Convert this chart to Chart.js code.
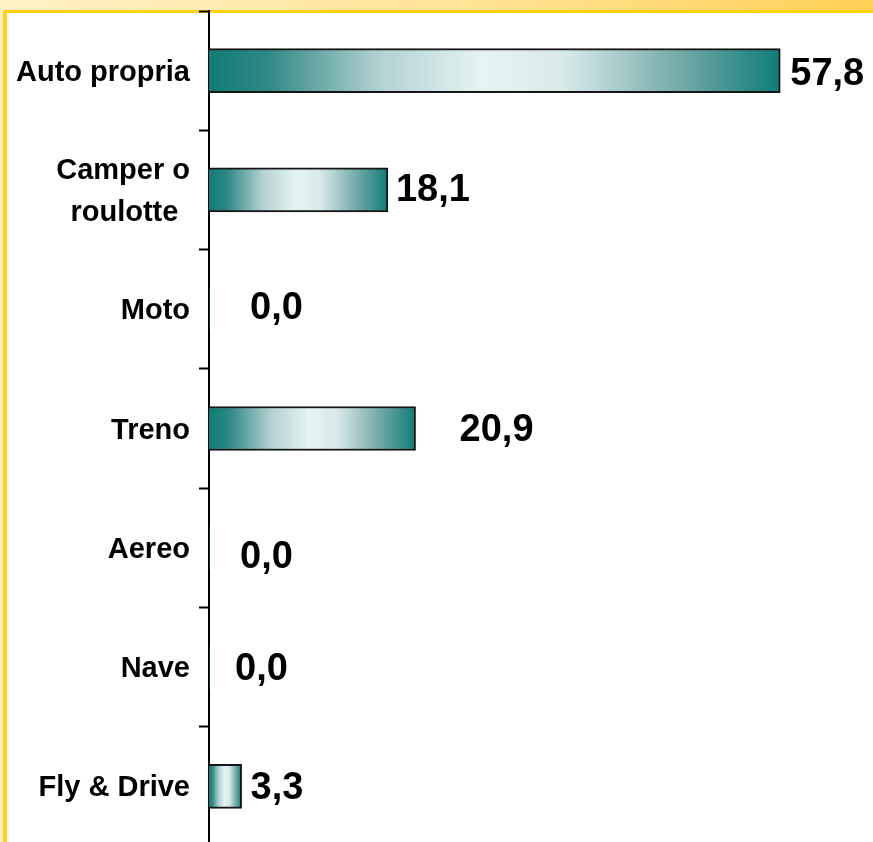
<!DOCTYPE html>
<html>
<head>
<meta charset="utf-8">
<script src="https://cdn.jsdelivr.net/npm/chart.js@4.4.1/dist/chart.umd.min.js"></script>
<style>
    html, body {
        margin: 0;
        padding: 0;
        width: 873px;
        height: 842px;
        overflow: hidden;
    }
    body {
        background: linear-gradient(to right, #fff1c6 0%, #ffe394 55%, #ffd055 100%);
        position: relative;
    }
    .panel {
        position: absolute;
        left: 3px;
        top: 10px;
        right: 0;
        bottom: 0;
        background: #ffffff;
        border-left: 4px solid #ffd10f;
        border-top: 3px solid #ffd10f;
    }
    #wrap {
        position: absolute;
        left: 0;
        top: 0;
        width: 873px;
        height: 850px;
    }
</style>
</head>
<body>
<div class="panel"></div>
<div id="wrap">
    <canvas id="chart" width="873" height="850"></canvas>
</div>
<script>
    const categories = [
        'Auto propria',
        ['Camper o', 'roulotte\u2009\u2009'],
        'Moto',
        'Treno',
        'Aereo',
        'Nave',
        'Fly & Drive'
    ];
    const shares = [57.8, 18.1, 0.0, 20.9, 0.0, 0.0, 3.3];
    const axisMax = 60;

    // nudges for the value labels, in pixels
    const labelDx = [10, 8, 41, 44, 31, 26, 9];
    const labelDy = [4, 1, -1, 2, 10, 2, 2];

    function barGradient(context) {
        const chart = context.chart;
        const xScale = chart.scales.x;
        if (!chart.chartArea || !xScale) return '#1a7f7b';
        const v = shares[context.dataIndex];
        const x0 = xScale.getPixelForValue(0);
        const x1 = xScale.getPixelForValue(v);
        if (x1 - x0 < 1) return '#1a7f7b';
        const g = chart.ctx.createLinearGradient(x0, 0, x1, 0);
        g.addColorStop(0, '#0e7c77');
        g.addColorStop(0.1, '#2f8884');
        g.addColorStop(0.3, '#b2d2d1');
        g.addColorStop(0.48, '#e5f3f3');
        g.addColorStop(0.62, '#d9eaea');
        g.addColorStop(0.82, '#76aba9');
        g.addColorStop(1, '#0e7c77');
        return g;
    }

    const valueLabels = {
        id: 'valueLabels',
        afterDatasetsDraw(chart) {
            const ctx = chart.ctx;
            const meta = chart.getDatasetMeta(0);
            ctx.save();
            ctx.font = 'bold 38px "Liberation Sans", Arial, sans-serif';
            ctx.fillStyle = '#000';
            ctx.textAlign = 'left';
            ctx.textBaseline = 'middle';
            meta.data.forEach((bar, i) => {
                const text = shares[i].toFixed(1).replace('.', ',');
                ctx.fillText(text, bar.x + labelDx[i], bar.y + labelDy[i]);
            });
            ctx.restore();
        }
    };

    new Chart(document.getElementById('chart'), {
        type: 'bar',
        data: {
            labels: categories,
            datasets: [{
                data: shares,
                backgroundColor: barGradient,
                borderColor: '#161616',
                borderWidth: ctx => shares[ctx.dataIndex] > 0 ? 2 : 0,
                borderSkipped: 'start',
                barThickness: 44
            }]
        },
        options: {
            indexAxis: 'y',
            responsive: false,
            animation: false,
            devicePixelRatio: 1,
            layout: {
                padding: { top: 11, right: 71, bottom: 4, left: 0 }
            },
            plugins: {
                legend: { display: false },
                tooltip: { enabled: false }
            },
            scales: {
                x: {
                    display: false,
                    min: 0,
                    max: axisMax
                },
                y: {
                    afterFit(scale) {
                        scale.width = 209;
                        scale.paddingTop = 0;
                        scale.paddingBottom = 0;
                    },
                    border: {
                        display: true,
                        color: '#000',
                        width: 2
                    },
                    grid: {
                        display: true,
                        offset: true,
                        drawOnChartArea: false,
                        drawTicks: true,
                        tickLength: 10,
                        tickWidth: 2,
                        tickColor: '#000'
                    },
                    ticks: {
                        color: '#000',
                        padding: 9,
                        labelOffset: 2,
                        font: {
                            family: '"Liberation Sans", Arial, sans-serif',
                            size: 29,
                            weight: 'bold',
                            lineHeight: 1.45
                        }
                    }
                }
            }
        },
        plugins: [valueLabels]
    });
</script>
</body>
</html>
